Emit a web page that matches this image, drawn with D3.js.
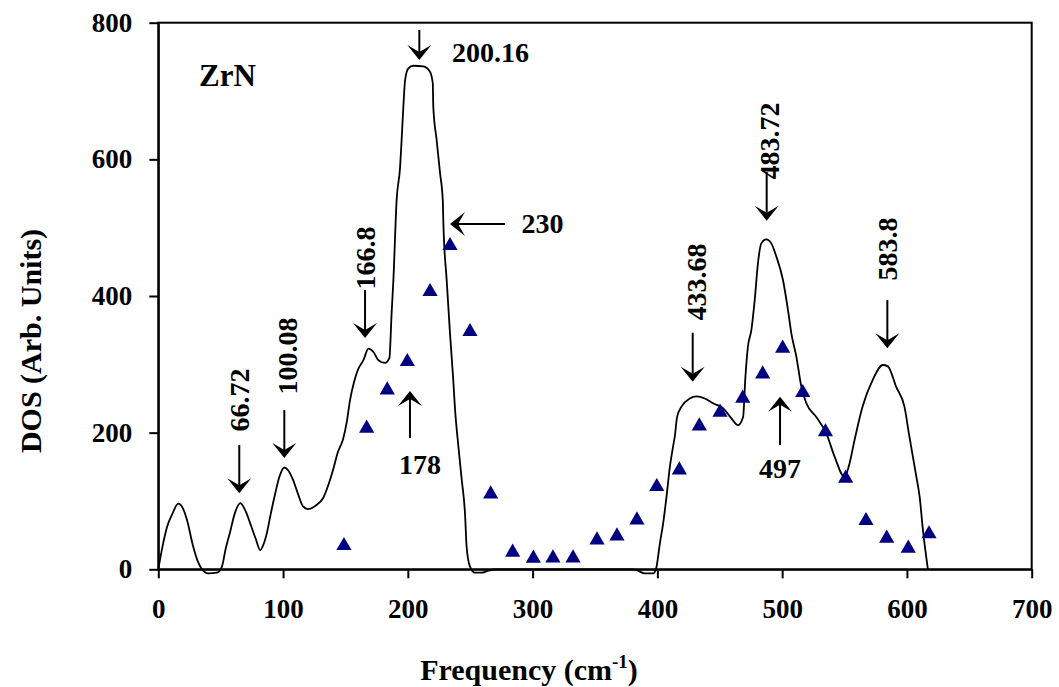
<!DOCTYPE html>
<html>
<head>
<meta charset="utf-8">
<script src="https://cdn.jsdelivr.net/npm/d3@7"></script>
<style>
  body { margin: 0; background: #fff; }
  text { font-family: "Liberation Serif", "Times New Roman", serif; font-weight: bold; fill: #000; }
</style>
</head>
<body>
<div id="chart"></div>
<script>
// Tamaño del lienzo
var width = 1059;
var height = 687;

// Datos: curva DOS (frecuencia, DOS)
var curveFreq = [0, 3, 7, 11, 16, 20, 23, 28, 32, 35, 40, 47, 51, 54, 57.6, 61, 65.7, 70, 73.7, 78, 81.7, 84, 87, 90, 93.7, 97, 101, 104, 108, 112, 116, 120, 126, 132, 136, 140, 144, 148, 151, 153.7, 157, 160, 164.4, 168.4, 172.4, 176.4, 181.7, 185.2, 187, 188.4, 191, 193.8, 195, 196.4, 197.8, 200.4, 204.4, 212.4, 217.8, 220, 220.4, 223.1, 225.8, 228, 228.5, 231.1, 233.8, 236.4, 237.8, 240.5, 243.2, 245.8, 247.1, 249.8, 253.8, 259, 264.5, 270, 380, 383, 390, 396.6, 399, 402, 404.6, 407.3, 410, 412.6, 414, 415.8, 419.3, 426, 431.3, 438, 444.6, 452.6, 459.3, 464.6, 468.7, 470.5, 472.5, 475.3, 478, 480.6, 483.3, 487.3, 491.3, 495.3, 500.7, 504.7, 507.4, 511.4, 515.4, 519.4, 527.3, 535.4, 542, 550, 554, 558, 564.4, 572.5, 580.7, 584.7, 591.4, 598, 602, 607.5, 610.2, 612.8, 616.8];
var curveDos = [0, 30, 62, 80, 96, 88, 72, 33, 10, 0, -6, -5, 4, 30, 55, 80, 97, 85, 67, 45, 28, 35, 53, 80, 111, 135, 149, 145, 131, 110, 92, 88, 93, 104, 122, 145, 172, 190, 215, 248, 275, 292, 306, 323, 318, 306, 302, 309, 375, 423, 540, 589, 628, 677, 716, 733, 737, 736, 728, 711, 677, 628, 580, 540, 505, 424, 345, 277, 235, 180, 131, 82, 33, 4, -5, -5, -2, 0, 0, -1, -6, -6, 1, 38, 67, 106, 150, 180, 195, 223, 238, 250, 253, 250, 243, 236, 221, 211, 223, 280, 325, 350, 394, 448, 477, 483, 477, 458, 423, 379, 345, 311, 267, 243, 223, 199, 165, 135, 155, 189, 238, 277, 299, 297, 267, 238, 194, 136, 106, 58, 0];

// Datos: triángulos
var triFreq = [148.8, 167, 183.5, 199.6, 217.8, 233.8, 249.8, 266.4, 284, 300.6, 316.3, 332.4, 351.6, 367.6, 383.6, 399.5, 417.6, 433.6, 450.2, 468.4, 484.4, 500.4, 516.5, 534.7, 550.9, 567.2, 583.8, 601.1, 617.7];
var triDos = [34.5, 206.4, 262.4, 303.8, 406.3, 473.6, 347.8, 110.2, 24.9, 16.1, 16.5, 16.5, 42.9, 48.7, 72.1, 120.9, 145.3, 209.7, 229.8, 250.3, 285.8, 323.5, 258.5, 201, 133.2, 71.1, 45.4, 30.7, 51.7];

// Ticks
var xTicks = [0, 100, 200, 300, 400, 500, 600, 700];
var yTicks = [0, 200, 400, 600, 800];

// Anotaciones (en unidades de datos)
var peakText = ["66.72", "100.08", "166.8", "178", "200.16", "230", "433.68", "483.72", "497", "583.8"];
var arrowFrom = [[64.9, 181.9], [101, 233], [165.7, 408.8], [201.7, 192.2], [209.2, 789.3], [277.9, 505.4], [428.3, 346.3], [487.6, 581.5], [498.3, 181.9], [584.3, 394.1]];
var arrowTo = [[64.9, 111.2], [101, 162.9], [165.7, 338.5], [201.7, 261], [209.2, 745.4], [233.8, 505.4], [428.3, 274.6], [487.6, 510.2], [498.3, 252.6], [584.3, 323.5]];
var labelAt = [[64.6, 247.8], [103.2, 312.2], [165.7, 455.6], [209.7, 154.1], [266.3, 756.4], [307.9, 506.8], [431, 420.5], [489.9, 627], [498.3, 148.5], [584, 468.8]];
var labelTurned = [true, true, true, false, false, false, true, true, false, true];

// Escalas
var x = d3.scaleLinear().domain([0, 700]).range([158.3, 1031.7]);
var y = d3.scaleLinear().domain([0, 800]).range([569.3, 22.7]);

var svg = d3.select("#chart")
  .append("svg")
  .attr("width", width)
  .attr("height", height);

// Marco
svg.append("rect")
  .attr("x", x(0))
  .attr("y", y(800))
  .attr("width", x(700) - x(0))
  .attr("height", y(0) - y(800))
  .attr("fill", "none")
  .attr("stroke", "#000")
  .attr("stroke-width", 2);

// Ejes
var gx = svg.append("g")
  .attr("transform", "translate(0," + y(0) + ")")
  .call(d3.axisBottom(x).tickValues(xTicks).tickSize(9).tickSizeOuter(0).tickPadding(21));
var gy = svg.append("g")
  .attr("transform", "translate(" + x(0) + ",0)")
  .call(d3.axisLeft(y).tickValues(yTicks).tickSize(9).tickSizeOuter(0).tickPadding(17));

[gx, gy].forEach(function(g) {
  g.select(".domain").attr("stroke-width", 2);
  g.selectAll(".tick line").attr("stroke-width", 2);
  g.selectAll(".tick text")
    .attr("font-size", "27px")
    .attr("font-family", "Liberation Serif, Times New Roman, serif")
    .attr("font-weight", "bold");
});

// Curva
var points = curveFreq.map(function(f, i) { return [f, curveDos[i]]; });
var line = d3.line()
  .x(function(d) { return x(d[0]); })
  .y(function(d) { return y(d[1]); })
  .curve(d3.curveMonotoneX);

svg.append("path")
  .datum(points)
  .attr("d", line)
  .attr("fill", "none")
  .attr("stroke", "#000")
  .attr("stroke-width", 1.8)
  .attr("stroke-linejoin", "round");

// Triángulos
var tris = triFreq.map(function(f, i) { return [f, triDos[i]]; });
svg.selectAll(".tri")
  .data(tris)
  .enter()
  .append("path")
  .attr("class", "tri")
  .attr("d", d3.symbol(d3.symbolTriangle).size(100))
  .attr("transform", function(d) { return "translate(" + x(d[0]) + "," + y(d[1]) + ")"; })
  .attr("fill", "#000080");

// Flechas
peakText.forEach(function(t, i) {
  var x0 = x(arrowFrom[i][0]), y0 = y(arrowFrom[i][1]);
  var x1 = x(arrowTo[i][0]), y1 = y(arrowTo[i][1]);
  var len = Math.hypot(x1 - x0, y1 - y0);
  var ang = Math.atan2(y1 - y0, x1 - x0) * 180 / Math.PI;
  var g = svg.append("g")
    .attr("transform", "translate(" + x1 + "," + y1 + ") rotate(" + ang + ")");
  g.append("line")
    .attr("x1", -len).attr("y1", 0)
    .attr("x2", -8).attr("y2", 0)
    .attr("stroke", "#000")
    .attr("stroke-width", 2);
  g.append("path")
    .attr("d", "M0,0L-15,-12L-8,0L-15,12Z")
    .attr("fill", "#000");

  var lx = x(labelAt[i][0]), ly = y(labelAt[i][1]);
  svg.append("text")
    .attr("transform", "translate(" + lx + "," + ly + ")" + (labelTurned[i] ? " rotate(-90)" : ""))
    .attr("text-anchor", "middle")
    .attr("dy", "0.35em")
    .attr("font-size", "28px")
    .text(t);
});

// Etiqueta ZrN
svg.append("text")
  .attr("x", 199)
  .attr("y", 86)
  .attr("font-size", "31px")
  .text("ZrN");

// Títulos de ejes
svg.append("text")
  .attr("transform", "translate(41,341) rotate(-90)")
  .attr("text-anchor", "middle")
  .attr("font-size", "30px")
  .text("DOS (Arb. Units)");

var xt = svg.append("text")
  .attr("x", 529)
  .attr("y", 680)
  .attr("text-anchor", "middle")
  .attr("font-size", "30px");
xt.append("tspan").text("Frequency (cm");
xt.append("tspan").attr("font-size", "19px").attr("dy", "-12").text("-1");
xt.append("tspan").attr("dy", "12").text(")");
</script>
</body>
</html>
